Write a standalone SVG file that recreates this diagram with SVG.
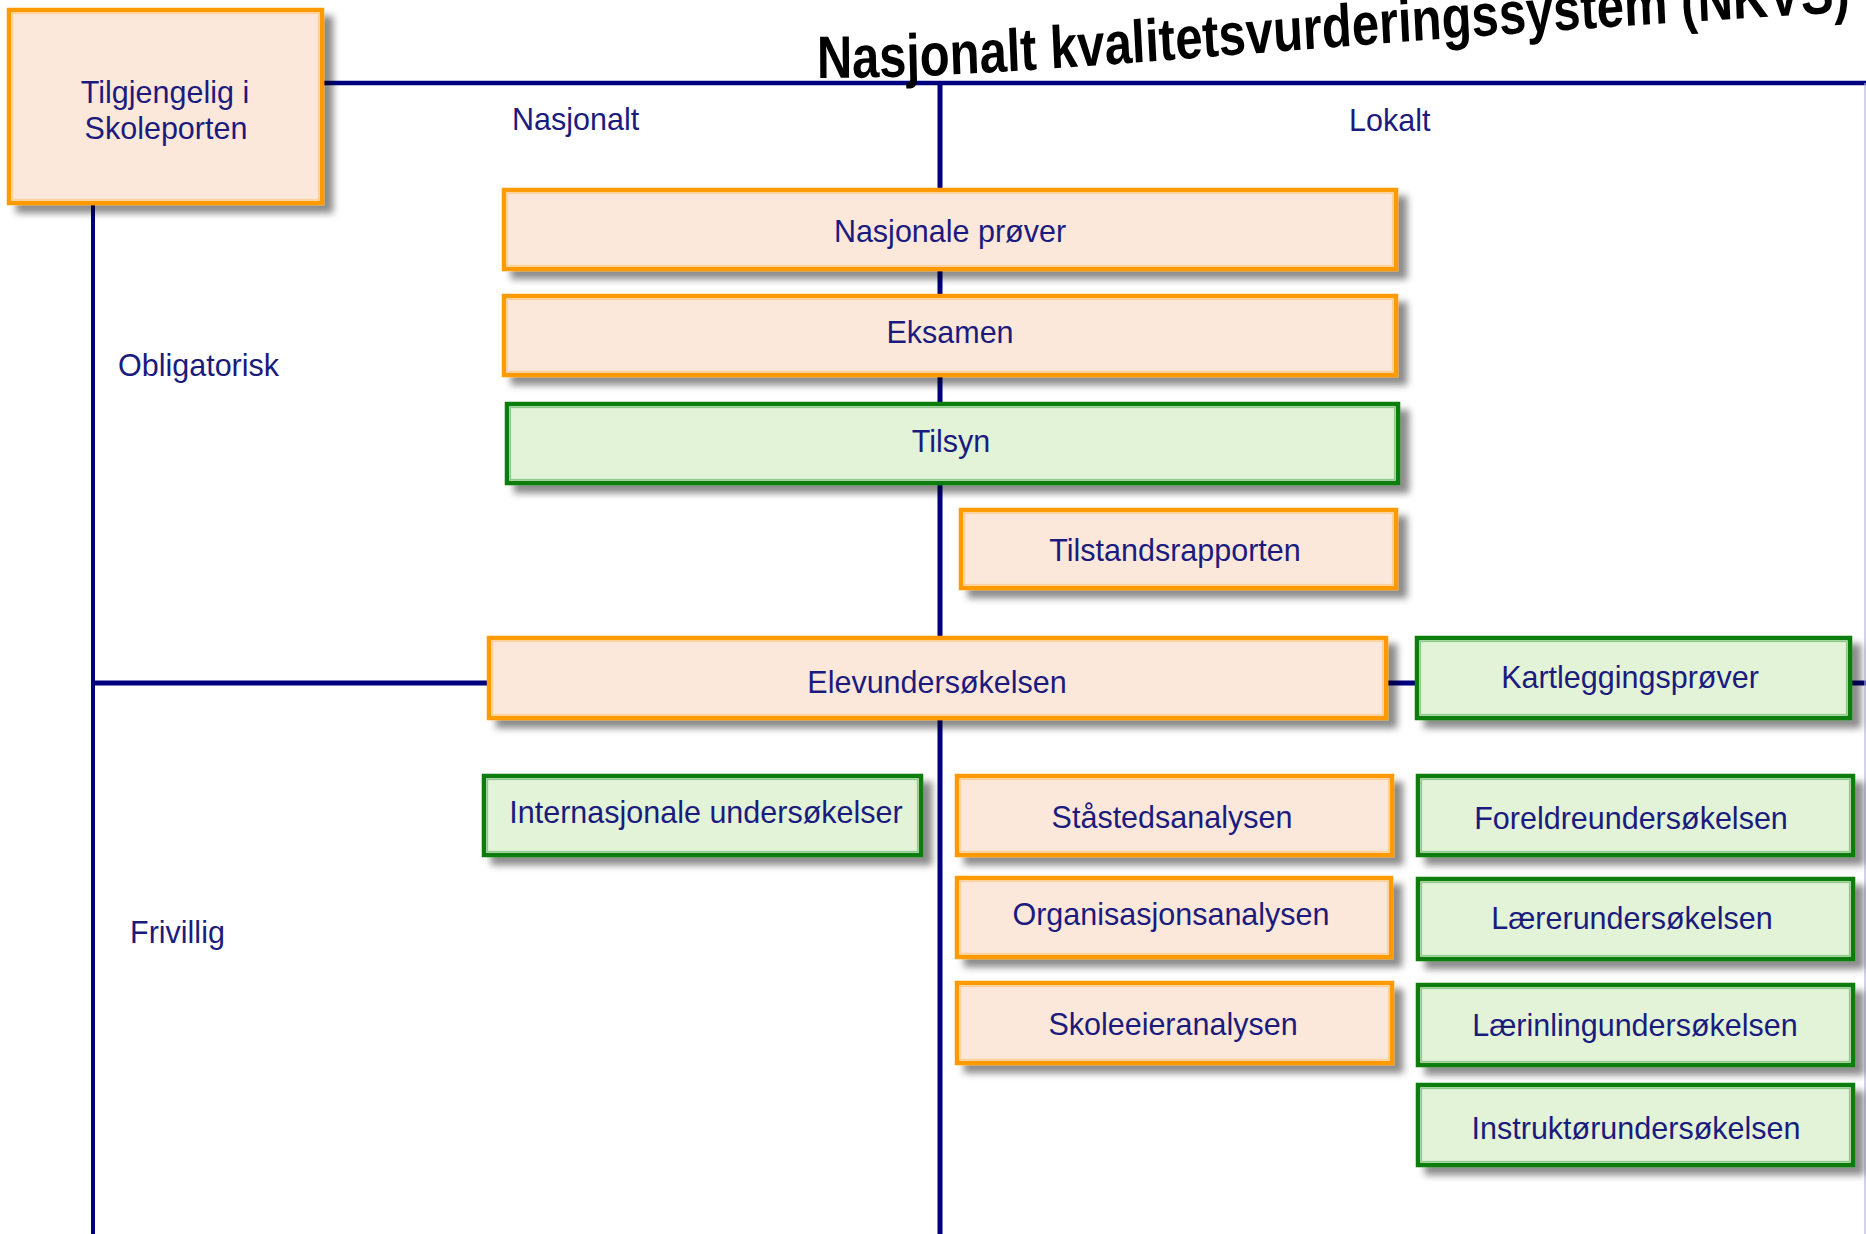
<svg xmlns="http://www.w3.org/2000/svg" width="1866" height="1234" viewBox="0 0 1866 1234">
  <style>
    text { font-family: "Liberation Sans", Arial, sans-serif; }
    .lbl { font-size: 30.5px; fill: #1b1b7e; }
    .ctr { text-anchor: middle; }
    .ora { fill: #fce8da; stroke: #ff9a00; stroke-width: 4.5; }
    .ora-in { fill: none; stroke: #ffd09a; stroke-width: 1.2; }
    .grn { fill: #e2f3d7; stroke: #0b7d0b; stroke-width: 4.5; }
    .grn-in { fill: none; stroke: #8dc98d; stroke-width: 1.2; }
    .ln { stroke: #00007f; fill: none; }
    .title { font-size: 60px; font-weight: bold; fill: #000; }
  </style>
  <defs>
    <filter id="sh" x="-5%" y="-10%" width="115%" height="145%">
      <feDropShadow dx="9" dy="8" stdDeviation="3.5" flood-color="#000" flood-opacity="0.45"/>
    </filter>
    <path id="titlePath" d="M 0 78 C 285 78, 591 42, 1350 8"/>
  </defs>
  <rect width="1866" height="1234" fill="#ffffff"/>

  <g id="connectors">
    <line class="ln" x1="324" y1="83" x2="1866" y2="83" stroke-width="4.5"/>
    <line class="ln" x1="93" y1="205" x2="93" y2="1234" stroke-width="4"/>
    <line class="ln" x1="940" y1="83" x2="940" y2="1234" stroke-width="5"/>
    <line class="ln" x1="93" y1="683" x2="1866" y2="683" stroke-width="5"/>
    <line x1="1865" y1="83" x2="1865" y2="1234" stroke="#b4b4e0" stroke-width="1.2"/>
  </g>

  <g id="node-skoleporten">
    <rect class="ora" x="9" y="10" width="313" height="193" filter="url(#sh)"/>
    <rect class="ora-in" x="12.5" y="13.5" width="306" height="186"/>
    <text class="lbl ctr" x="165" y="103">Tilgjengelig i</text>
    <text class="lbl ctr" x="166" y="139">Skoleporten</text>
  </g>

  <g id="axis-labels">
    <text class="lbl" x="512" y="130">Nasjonalt</text>
    <text class="lbl" x="1349" y="131">Lokalt</text>
    <text class="lbl" x="118" y="376">Obligatorisk</text>
    <text class="lbl" x="130" y="943">Frivillig</text>
  </g>

  <g id="node-nasjonale-prover">
    <rect class="ora" x="504" y="190" width="892" height="79" filter="url(#sh)"/>
    <rect class="ora-in" x="507.5" y="193.5" width="885" height="72"/>
    <text class="lbl ctr" x="950" y="242">Nasjonale prøver</text>
  </g>
  <g id="node-eksamen">
    <rect class="ora" x="504" y="296" width="892" height="79" filter="url(#sh)"/>
    <rect class="ora-in" x="507.5" y="299.5" width="885" height="72"/>
    <text class="lbl ctr" x="950" y="343">Eksamen</text>
  </g>
  <g id="node-tilsyn">
    <rect class="grn" x="507" y="404" width="891" height="79" filter="url(#sh)"/>
    <rect class="grn-in" x="510.5" y="407.5" width="884" height="72"/>
    <text class="lbl ctr" x="951" y="452">Tilsyn</text>
  </g>
  <g id="node-tilstandsrapporten">
    <rect class="ora" x="961" y="510" width="435" height="78" filter="url(#sh)"/>
    <rect class="ora-in" x="964.5" y="513.5" width="428" height="71"/>
    <text class="lbl ctr" x="1175" y="561">Tilstandsrapporten</text>
  </g>
  <g id="node-elevundersokelsen">
    <rect class="ora" x="489" y="638" width="897" height="80" filter="url(#sh)"/>
    <rect class="ora-in" x="492.5" y="641.5" width="890" height="73"/>
    <text class="lbl ctr" x="937" y="693">Elevundersøkelsen</text>
  </g>
  <g id="node-kartleggingsprover">
    <rect class="grn" x="1417" y="638" width="433" height="80" filter="url(#sh)"/>
    <rect class="grn-in" x="1420.5" y="641.5" width="426" height="73"/>
    <text class="lbl ctr" x="1630" y="688">Kartleggingsprøver</text>
  </g>
  <g id="node-internasjonale">
    <rect class="grn" x="484" y="776" width="437" height="79" filter="url(#sh)"/>
    <rect class="grn-in" x="487.5" y="779.5" width="430" height="72"/>
    <text class="lbl ctr" x="706" y="823">Internasjonale undersøkelser</text>
  </g>
  <g id="node-stastedsanalysen">
    <rect class="ora" x="957" y="776" width="435" height="79" filter="url(#sh)"/>
    <rect class="ora-in" x="960.5" y="779.5" width="428" height="72"/>
    <text class="lbl ctr" x="1172" y="828">Ståstedsanalysen</text>
  </g>
  <g id="node-organisasjonsanalysen">
    <rect class="ora" x="957" y="878" width="434" height="79" filter="url(#sh)"/>
    <rect class="ora-in" x="960.5" y="881.5" width="427" height="72"/>
    <text class="lbl ctr" x="1171" y="925">Organisasjonsanalysen</text>
  </g>
  <g id="node-skoleeieranalysen">
    <rect class="ora" x="957" y="983" width="435" height="80" filter="url(#sh)"/>
    <rect class="ora-in" x="960.5" y="986.5" width="428" height="73"/>
    <text class="lbl ctr" x="1173" y="1035">Skoleeieranalysen</text>
  </g>
  <g id="node-foreldreundersokelsen">
    <rect class="grn" x="1418" y="776" width="435" height="79" filter="url(#sh)"/>
    <rect class="grn-in" x="1421.5" y="779.5" width="428" height="72"/>
    <text class="lbl ctr" x="1631" y="829">Foreldreundersøkelsen</text>
  </g>
  <g id="node-larerundersokelsen">
    <rect class="grn" x="1418" y="879" width="435" height="80" filter="url(#sh)"/>
    <rect class="grn-in" x="1421.5" y="882.5" width="428" height="73"/>
    <text class="lbl ctr" x="1632" y="929">Lærerundersøkelsen</text>
  </g>
  <g id="node-larlingundersokelsen">
    <rect class="grn" x="1418" y="985" width="435" height="80" filter="url(#sh)"/>
    <rect class="grn-in" x="1421.5" y="988.5" width="428" height="73"/>
    <text class="lbl ctr" x="1635" y="1036">Lærinlingundersøkelsen</text>
  </g>
  <g id="node-instruktorundersokelsen">
    <rect class="grn" x="1418" y="1085" width="435" height="80" filter="url(#sh)"/>
    <rect class="grn-in" x="1421.5" y="1088.5" width="428" height="73"/>
    <text class="lbl ctr" x="1636" y="1139">Instruktørundersøkelsen</text>
  </g>

  <g id="title" transform="translate(817 0) scale(0.817 1)">
    <text class="title"><textPath href="#titlePath">Nasjonalt kvalitetsvurderingssystem (NKVS)</textPath></text>
  </g>
</svg>
